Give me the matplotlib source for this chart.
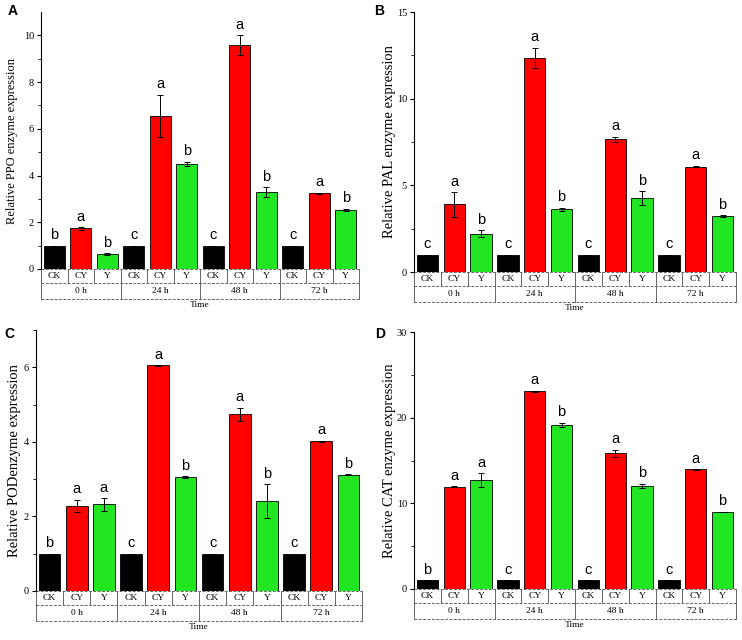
import matplotlib.pyplot as plt
import matplotlib.transforms as mtransforms

plt.rcParams["font.family"] = ["Liberation Serif", "DejaVu Serif"]

groups = ["0 h", "24 h", "48 h", "72 h"]
treatments = ["CK", "CY", "Y"]
colors = ["black", "#ff0000", "#22e622"]

ppo_mean = [1, 1.74, 0.64, 1, 6.56, 4.49, 1, 9.57, 3.29, 1, 3.25, 2.53]
ppo_err = [0, 0.05, 0.03, 0, 0.9, 0.1, 0, 0.43, 0.2, 0, 0.02, 0.05]
ppo_sig = ["b", "a", "b", "c", "a", "b", "c", "a", "b", "c", "a", "b"]

pal_mean = [1, 3.9, 2.2, 1, 12.35, 3.62, 1, 7.65, 4.27, 1, 6.08, 3.23]
pal_err = [0, 0.7, 0.2, 0, 0.6, 0.08, 0, 0.15, 0.4, 0, 0.05, 0.06]
pal_sig = ["c", "a", "b", "c", "a", "b", "c", "a", "b", "c", "a", "b"]

pod_mean = [1, 2.29, 2.32, 1, 6.05, 3.06, 1, 4.74, 2.42, 1, 4.01, 3.12]
pod_err = [0, 0.16, 0.17, 0, 0.01, 0.02, 0, 0.17, 0.45, 0, 0.02, 0.01]
pod_sig = ["b", "a", "a", "c", "a", "b", "c", "a", "b", "c", "a", "b"]

cat_mean = [1, 11.95, 12.7, 1, 23.1, 19.15, 1, 15.85, 12.05, 1, 13.95, 9.0]
cat_err = [0, 0.06, 0.8, 0, 0.06, 0.25, 0, 0.4, 0.25, 0, 0.02, 0.02]
cat_sig = ["b", "a", "a", "c", "a", "b", "c", "a", "b", "c", "a", "b"]

W, H = 742, 640
fig = plt.figure(figsize=(W / 100, H / 100), dpi=100)


def draw_panel(box, tag, tag_xy, means, errs, sig, ymax, major, minor,
               ylabel, ylabel_size, label_gap):
    left, top, right, bottom = box
    ax = fig.add_axes([left / W, 1 - bottom / H, (right - left) / W, (bottom - top) / H])
    ax_h = bottom - top
    ax_w = right - left

    x = list(range(len(means)))
    bar_colors = [colors[i % 3] for i in x]
    ax.bar(x, means, width=0.8, color=bar_colors, edgecolor="black", linewidth=0.6)
    ax.errorbar(x, means, yerr=errs, fmt="none", ecolor="black",
                elinewidth=0.7, capsize=2.2, capthick=0.7)
    for xi, m, e, s in zip(x, means, errs, sig):
        ax.annotate(s, (xi, m + e), xytext=(0, 2.5), textcoords="offset points",
                    ha="center", va="bottom", fontsize=10.5,
                    family=["Liberation Sans", "DejaVu Sans"])

    ax.set_xlim(-0.5, len(means) - 0.5)
    ax.set_ylim(0, ymax)
    ax.set_yticks(major)
    ax.set_yticks(minor, minor=True)
    ax.set_xticks([])
    for side in ["top", "right", "bottom"]:
        ax.spines[side].set_visible(False)
    ax.spines["left"].set_linewidth(0.8)
    ax.tick_params(axis="y", which="major", length=3, width=0.8, pad=2, labelsize=7.5)
    ax.tick_params(axis="y", which="minor", length=2, width=0.6)
    ax.set_ylabel(ylabel, fontsize=ylabel_size)
    ax.yaxis.set_label_coords(-label_gap / ax_w, 0.5)

    # category boxes under the axis
    tr = mtransforms.blended_transform_factory(ax.transData, ax.transAxes)
    r1 = -14 / ax_h
    r2 = -30 / ax_h
    lx0, lx1 = -0.5, len(means) - 0.5
    kw = dict(transform=tr, clip_on=False, color="#666666", lw=0.7)
    for yy in [0, r1, r2]:
        ax.plot([lx0, lx1], [yy, yy], ls=(0, (3, 1.5)), **kw)
    for i in range(len(means) + 1):
        xb = i - 0.5
        ybot = r2 if i % 3 == 0 else r1
        ax.plot([xb, xb], [0, ybot], ls="-", **kw)
    for i in x:
        ax.text(i, r1 / 2, treatments[i % 3], transform=tr, ha="center",
                va="center", fontsize=6.8)
    for g, name in enumerate(groups):
        ax.text(3 * g + 1, (r1 + r2) / 2, name, transform=tr, ha="center",
                va="center", fontsize=6.8)
    ax.text(0.5, -36 / ax_h, "Time", transform=ax.transAxes, ha="center",
            va="center", fontsize=6.8)

    fig.text(tag_xy[0] / W, 1 - tag_xy[1] / H, tag, ha="center", va="center",
             fontsize=10, fontweight="bold", family=["Liberation Sans", "DejaVu Sans"])
    return ax


draw_panel((41, 12, 359, 269), "A", (13, 11), ppo_mean, ppo_err, ppo_sig, 11,
           [0, 2, 4, 6, 8, 10], [1, 3, 5, 7, 9], "Relative PPO enzyme expression", 9, 23)
draw_panel((414, 12, 736, 272), "B", (379, 11), pal_mean, pal_err, pal_sig, 15,
           [0, 5, 10, 15], [2.5, 7.5, 12.5], "Relative PAL enzyme expression", 10.5, 18)
draw_panel((36, 330, 362, 591), "C", (9, 334), pod_mean, pod_err, pod_sig, 7,
           [0, 2, 4, 6], [1, 3, 5, 7], "Relative PODenzyme expression", 10.5, 15)
draw_panel((414, 332, 736, 589), "D", (380, 334), cat_mean, cat_err, cat_sig, 30,
           [0, 10, 20, 30], [5, 15, 25], "Relative CAT enzyme expression", 10.5, 18)

fig.savefig("out.png", dpi=100)
